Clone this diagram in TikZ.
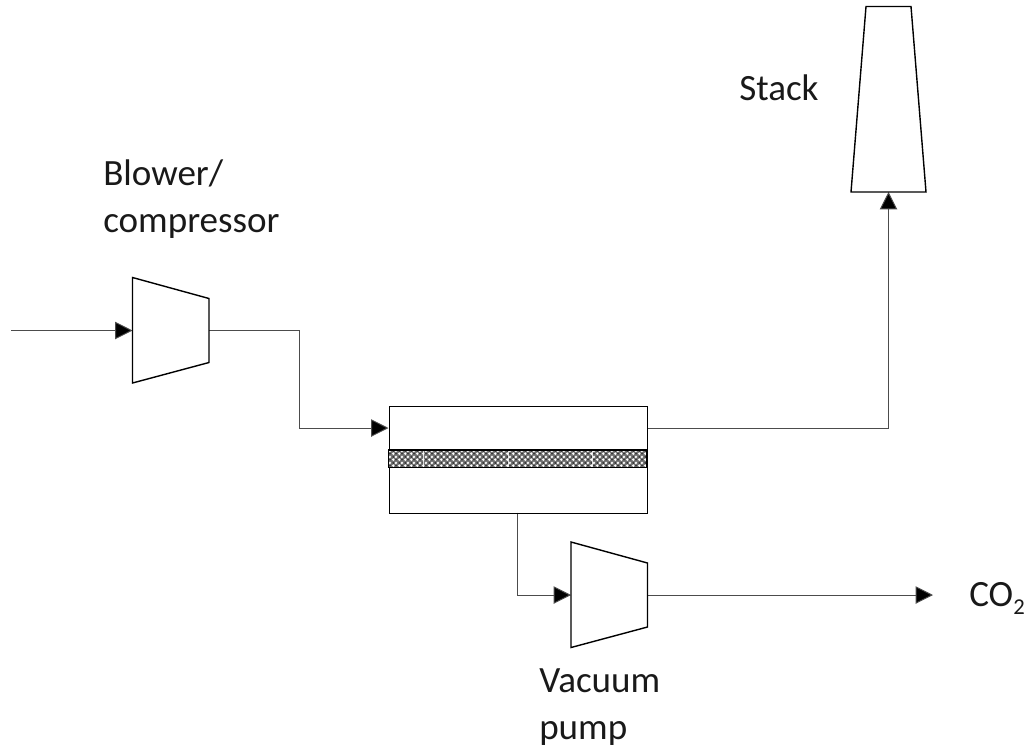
\documentclass[tikz,border=0pt]{standalone}
\usepackage{fontspec}
\setmainfont{Carlito}
\usetikzlibrary{arrows.meta,patterns}
\pgfdeclarepatternformonly{memlight}{\pgfpointorigin}{\pgfqpoint{4.2pt}{4.2pt}}{\pgfqpoint{4.2pt}{4.2pt}}{%
  \pgfpathcircle{\pgfqpoint{1.05pt}{1.05pt}}{1.05pt}
  \pgfpathcircle{\pgfqpoint{3.15pt}{3.15pt}}{1.05pt}
  \pgfusepath{fill}}
\pgfdeclarepatternformonly{memdark}{\pgfpointorigin}{\pgfqpoint{4.2pt}{4.2pt}}{\pgfqpoint{4.2pt}{4.2pt}}{%
  \pgfpathcircle{\pgfqpoint{3.15pt}{1.05pt}}{0.8pt}
  \pgfpathcircle{\pgfqpoint{1.05pt}{3.15pt}}{0.8pt}
  \pgfusepath{fill}}
\tikzset{
  unit/.style={draw=black,line width=1.05pt,line join=miter},
  flow/.style={draw=black!70,line width=0.7pt,line join=miter},
  flowarrow/.style={flow,-{Triangle[fill=black,length=13pt,width=13pt]}},
  lbl/.style={anchor=base west,inner sep=0pt,font=\fontsize{27.8pt}{27.8pt}\selectfont,text=black!90},
}
\begin{document}
\begin{tikzpicture}[x=0.75pt,y=-0.75pt]
\useasboundingbox (0,0) rectangle (1030,747);
% named ports
\coordinate (in) at (11,330.5);
\coordinate (blowerIn) at (132.5,330.5);
\coordinate (blowerOut) at (209,330.5);
\coordinate (membIn) at (388.5,428);
\coordinate (membOut) at (647,428);
\coordinate (membBot) at (517.5,512.5);
\coordinate (pumpIn) at (571,595);
\coordinate (pumpOut) at (647.5,595);
\coordinate (co2end) at (933,595);
\coordinate (stackIn) at (888.5,192);
% connectors
\draw[flowarrow] (in) -- (blowerIn);
\draw[flowarrow] (blowerOut) -- (299,330.5) -- (299,428) -- (membIn);
\draw[flowarrow] (membOut) -- (888.5,428) -- (stackIn);
\draw[flowarrow] (membBot) -- (517.5,595) -- (pumpIn);
\draw[flowarrow] (pumpOut) -- (co2end);
% units
\draw[unit] (132.5,277.5) -- (209,298.5) -- (209,362.5) -- (132.5,383) -- cycle;
\draw[unit] (571,542) -- (647.5,563) -- (647.5,627) -- (571,647.5) -- cycle;
\draw[unit] (866,6.5) -- (911,6.5) -- (926,192) -- (851,192) -- cycle;
\node[draw=black,line width=1.05pt,inner sep=0pt,minimum width=193.5pt,minimum height=79.9pt,anchor=north west] (memb) at (388.5,406) {};
\fill[black!55] (388.5,450) rectangle (647,467.5);
\fill[pattern=memlight,pattern color=white] (388.5,450) rectangle (647,467.5);
\fill[pattern=memdark,pattern color=black!80] (388.5,450) rectangle (647,467.5);
\foreach \s in {423,508,592.5}{\draw[white,opacity=0.8,line width=0.4pt] (\s,450) -- (\s,467.5);}
\draw[black,line width=0.95pt] (388.5,450) rectangle (647,467.5);
% labels
\node[lbl] (blower) at (103,185) {Blower/};
\node[lbl] (compressor) at (103,232) {compressor};
\node[lbl] (stack) at (739,100.5) {Stack};
\node[lbl] (vacuum) at (539,692.5) {Vacuum};
\node[lbl] (pump) at (539,739) {pump};
\node[lbl] (co2) at (969,606) {CO\raisebox{-6pt}{\fontsize{17pt}{17pt}\selectfont 2}};
\end{tikzpicture}
\end{document}
